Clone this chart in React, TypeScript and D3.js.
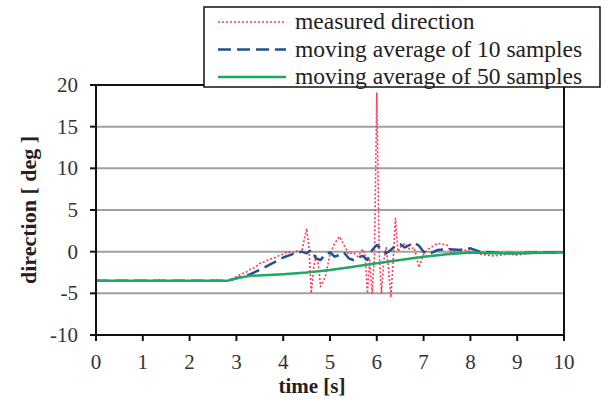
import * as d3 from 'd3';

// measured direction [deg] vs time [s]
const measuredT = [0, 2.8, 2.9, 3.0, 3.1, 3.2, 3.3, 3.4, 3.5, 3.6, 3.7, 3.8, 3.9, 4.0, 4.1, 4.2, 4.3, 4.4, 4.45, 4.5, 4.55, 4.6, 4.65, 4.7, 4.75, 4.8, 4.9, 5.0, 5.1, 5.2, 5.3, 5.4, 5.5, 5.6, 5.7, 5.75, 5.8, 5.85, 5.9, 5.95, 6.0, 6.05, 6.1, 6.15, 6.2, 6.25, 6.3, 6.35, 6.4, 6.45, 6.5, 6.6, 6.7, 6.8, 6.9, 7.0, 7.1, 7.3, 7.5, 7.6, 7.8, 8.0, 8.2, 8.5, 8.8, 9.0, 9.3, 9.6, 10];
const measuredV = [-3.5, -3.5, -3.4, -3.0, -2.7, -2.5, -2.1, -1.9, -1.4, -1.2, -0.9, -0.8, -0.5, -0.3, 0, -0.2, 0.1, 0, 1.5, 2.8, 0.5, -5, -2, -0.5, -1.5, -4.2, -3.0, -0.3, 1.0, 1.8, 0.8, -0.3, -0.1, -0.6, 0.3, -0.5, -5, -1, -5, -0.5, 19, 0, -5, -1, 0.5, -2, -5.5, -1, 4, 0, 0.5, 1, 0.3, 0.5, -1.9, -0.3, 0.3, 1.0, 0.8, -0.2, 0.3, 0, -0.3, -0.5, -0.3, -0.4, -0.2, -0.1, 0];

// moving average of 10 samples
const avg10T = [0, 2.8, 3.0, 3.3, 3.6, 4.0, 4.2, 4.4, 4.5, 4.6, 4.7, 4.8, 4.9, 5.0, 5.1, 5.2, 5.3, 5.4, 5.5, 5.6, 5.7, 5.8, 5.9, 6.0, 6.1, 6.2, 6.3, 6.4, 6.5, 6.6, 6.7, 6.8, 6.9, 7.0, 7.1, 7.3, 7.5, 7.8, 8.0, 8.2, 8.5, 9.0, 9.5, 10];
const avg10V = [-3.5, -3.5, -3.2, -2.7, -1.9, -0.7, -0.3, 0, -0.2, 0.2, -0.8, -1.0, -0.3, -0.1, -0.6, -0.4, -0.1, -0.8, -1.0, -0.7, -0.5, -1.0, 0.2, 0.8, 0.3, -0.2, 0.2, 0.7, 0.9, 0.5, 0.8, 1.1, 0.7, 0, -0.3, 0.2, 0.3, 0.2, 0.4, 0, -0.1, -0.2, -0.1, -0.1];

// moving average of 50 samples
const avg50T = [0, 2.8, 3.0, 3.3, 4.0, 4.5, 5.0, 5.5, 6.0, 6.5, 7.0, 7.5, 8.0, 8.5, 9.0, 10];
const avg50V = [-3.5, -3.5, -3.2, -2.9, -2.7, -2.5, -2.2, -1.8, -1.4, -1.0, -0.6, -0.3, -0.1, -0.2, -0.2, -0.1];

const xTicks = [0, 1, 2, 3, 4, 5, 6, 7, 8, 9, 10];
const yTicks = [-10, -5, 0, 5, 10, 15, 20];
const legendLabels = ['measured direction', 'moving average of 10 samples', 'moving average of 50 samples'];

const W = 608;
const H = 399;
const FONT = "'Liberation Serif', 'Times New Roman', 'DejaVu Serif', serif";

const series = [
  { t: measuredT, v: measuredV, color: '#ff3a55', width: 1.6, dash: '2,2' },
  { t: avg10T, v: avg10V, color: '#24508e', width: 2.5, dash: '13,6' },
  { t: avg50T, v: avg50V, color: '#1fa862', width: 2.5, dash: null },
];

export default function App() {
  const x = d3.scaleLinear().domain([0, 10]).range([96, 564]);
  const y = d3.scaleLinear().domain([-10, 20]).range([335, 85]);

  const line = d3
    .line<[number, number]>()
    .x(d => x(d[0]))
    .y(d => y(d[1]));

  return (
    <svg
      width={W}
      height={H}
      style={{ position: 'absolute', left: 0, top: 0, background: '#fff', fontFamily: FONT }}
    >
      <rect width={W} height={H} fill="#fff" />

      {/* grid lines */}
      {yTicks.filter(t => t > -10 && t < 20).map(t => (
        <line key={t} x1={x(0)} x2={x(10)} y1={y(t)} y2={y(t)} stroke="#a0a0a0" strokeWidth={2} />
      ))}

      {/* series */}
      {series.map((s, i) => (
        <path
          key={i}
          d={line(s.t.map((t, j) => [t, s.v[j]] as [number, number])) || ''}
          fill="none"
          stroke={s.color}
          strokeWidth={s.width}
          strokeDasharray={s.dash || undefined}
          strokeLinejoin="round"
        />
      ))}

      {/* frame */}
      <rect x={x(0)} y={y(20)} width={x(10) - x(0)} height={y(-10) - y(20)} fill="none" stroke="#111" strokeWidth={2} />

      {/* y axis */}
      {yTicks.map(t => (
        <g key={t}>
          <line x1={x(0) - 6} x2={x(0)} y1={y(t)} y2={y(t)} stroke="#111" strokeWidth={2} />
          <text x={78} y={y(t) + 7} textAnchor="end" fontSize={21} fill="#333">{t}</text>
        </g>
      ))}

      {/* x axis */}
      {xTicks.map(t => (
        <g key={t}>
          <line x1={x(t)} x2={x(t)} y1={y(-10)} y2={y(-10) + 6} stroke="#111" strokeWidth={2} />
          <text x={x(t)} y={369} textAnchor="middle" fontSize={21} fill="#333">{t}</text>
        </g>
      ))}

      <text x={312} y={393} textAnchor="middle" fontSize={21} fontWeight="bold" fill="#222">time [s]</text>
      <text
        transform="translate(36, 210) rotate(-90)"
        textAnchor="middle"
        fontSize={22}
        fontWeight="bold"
        fill="#222"
      >
        direction  [ deg ]
      </text>

      {/* legend */}
      <rect x={204} y={7} width={396} height={80} fill="#fff" stroke="#111" strokeWidth={1.5} />
      {legendLabels.map((label, i) => {
        const ly = 22 + i * 27.5;
        const s = series[i];
        return (
          <g key={label}>
            <line x1={218} x2={286} y1={ly} y2={ly} stroke={s.color} strokeWidth={s.width} strokeDasharray={s.dash || undefined} />
            <text x={295} y={ly + 7} fontSize={23.5} fill="#222">{label}</text>
          </g>
        );
      })}
    </svg>
  );
}
